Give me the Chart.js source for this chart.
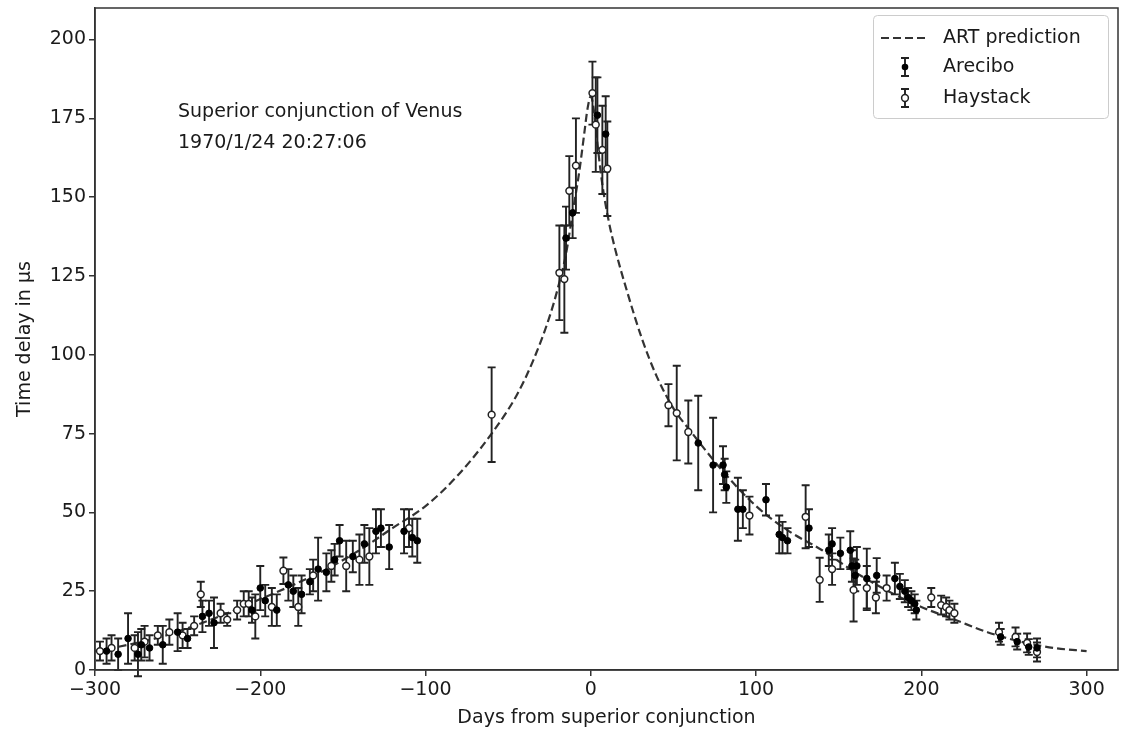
<!DOCTYPE html>
<html lang="en">
<head>
  <meta charset="UTF-8">
  <title>Time delay near superior conjunction of Venus</title>
  <script src="https://cdn.jsdelivr.net/npm/chart.js"></script>
  <style>
    html, body { margin: 0; padding: 0; background: #fff; }
    #wrap { width: 1126px; height: 731px; }
  </style>
</head>
<body>
  <div id="wrap"><canvas id="myChart" width="1126" height="731"></canvas></div>
  <script>
    // tick labels
    const xTicks = [-300, -200, -100, 0, 100, 200, 300];
    const yTicks = [0, 25, 50, 75, 100, 125, 150, 175, 200];

    // ART prediction curve
    const curveX = [-300, -280, -260, -240, -220, -200, -180, -160, -140, -120, -100, -80, -60, -45, -35, -25, -20, -15, -11, -7, -4, -2, 0,
      2, 4, 7, 11, 15, 22, 31, 40, 50, 60, 80, 100, 120, 140, 160, 180, 200, 220, 240, 260, 280, 300];
    const curveY = [6, 8, 10.5, 14, 18, 22.5, 27, 32, 38, 45, 52, 62, 75, 87, 98, 112, 121, 132, 145, 158, 170, 178, 182,
      177, 167, 154, 142, 133, 120, 105, 93, 83, 76, 63, 52, 44, 38, 31, 25, 20, 16, 12, 9, 7, 6];

    // Arecibo measurements (filled markers)
    const arecX = [-293, -286, -280, -274, -272, -267, -259, -250, -244, -235, -231, -228, -205, -200, -197, -190, -183, -180,
      -175, -170, -165, -160, -155, -152, -144, -137, -130, -127, -122, -113, -108, -105,
      -15, -11, 4, 9,
      65, 74, 80, 81, 82, 89, 92, 106, 114, 116, 119, 132, 144, 146, 151, 157, 158, 160, 161, 167, 173,
      184, 187, 190, 192, 194, 196, 197, 248, 258, 265, 270];
    const arecY = [6, 5, 10, 5, 8, 7, 8, 12, 10, 17, 18, 15, 19, 26, 22, 19, 27, 25,
      24, 28, 32, 31, 35, 41, 36, 40, 44, 45, 39, 44, 42, 41,
      137, 145, 176, 170,
      72, 65, 65, 62, 58, 51, 51, 54, 43, 42, 41, 45, 38, 40, 37, 38, 33, 30, 33, 29, 30,
      29, 26.5, 25, 23, 22, 21, 19, 10.5, 9, 7.3, 7];
    const arecErr = [4, 5, 8, 7, 5, 4, 6, 6, 3, 5, 4, 8, 4, 7, 5, 5, 5, 5,
      6, 4, 10, 6, 5, 5, 5, 6, 7, 6, 7, 7, 6, 7,
      10, 8, 12, 12,
      15, 15, 6, 5, 5, 10, 6, 5, 6, 5, 4, 6, 5, 5, 5, 6, 5, 5, 6, 9.5, 5.5,
      5, 4, 3.5, 3, 3, 3, 3, 2.5, 2.5, 2.5, 3];

    // Haystack measurements (open markers)
    const hayX = [-297, -290, -276, -270, -262, -255, -247, -240, -236, -224, -220, -214, -210, -207, -203, -193, -186, -177,
      -168, -157, -148, -140, -134, -110, -60,
      -19, -16, -13, -9, 1, 3, 7, 10,
      47, 52, 59, 96, 130, 138.5, 146, 159, 167, 172.5, 179, 206, 212, 215, 217, 220, 247, 257, 264, 270];
    const hayY = [6, 7, 7, 9, 11, 12, 11, 14, 24, 18, 16, 19, 21, 21, 17, 20, 31.5, 20,
      30, 33, 33, 35, 36, 45, 81,
      126, 124, 152, 160, 183, 173, 165, 159,
      84, 81.5, 75.5, 49, 48.6, 28.6, 32, 25.4, 26, 23, 26, 23, 20.6, 20, 19, 18, 12, 10.5, 8.6, 5.7];
    const hayErr = [3, 4, 4, 5, 3, 4, 4, 3, 4, 3, 2, 3, 4, 4, 7, 6, 4.2, 6,
      5, 5, 8, 8, 9, 6, 15,
      15, 17, 11, 15, 10, 15, 14, 15,
      6.7, 15, 10, 6, 10, 7, 5, 10, 7, 5, 4, 3, 3, 3, 3, 3, 3, 3, 3, 3];

    const FONT = 'DejaVu Sans';
    const INK = '#222';

    const pts = (xs, ys) => xs.map((x, i) => ({ x: x, y: ys[i] }));
    const minus = v => (v < 0 ? '\u2212' + Math.abs(v) : String(v));

    function drawBar(ctx, px, top, bottom) {
      ctx.beginPath();
      ctx.moveTo(px, top); ctx.lineTo(px, bottom);
      ctx.moveTo(px - 4, top); ctx.lineTo(px + 4, top);
      ctx.moveTo(px - 4, bottom); ctx.lineTo(px + 4, bottom);
      ctx.stroke();
    }

    const errorBars = {
      id: 'errorBars',
      afterDatasetDraw(chart, args) {
        if (args.index !== 0) return;
        const ctx = chart.ctx, xs = chart.scales.x, ys = chart.scales.y;
        ctx.save();
        ctx.strokeStyle = INK;
        ctx.lineWidth = 1.9;
        [[arecX, arecY, arecErr], [hayX, hayY, hayErr]].forEach(([X, Y, E]) => {
          X.forEach((x, i) => {
            const px = xs.getPixelForValue(x);
            drawBar(ctx, px, ys.getPixelForValue(Y[i] + E[i]), ys.getPixelForValue(Y[i] - E[i]));
          });
        });
        ctx.restore();
      }
    };

    const frameAndText = {
      id: 'frameAndText',
      afterDraw(chart) {
        const ctx = chart.ctx, a = chart.chartArea;
        ctx.save();
        ctx.strokeStyle = '#333';
        ctx.lineWidth = 1.5;
        ctx.strokeRect(a.left, a.top, a.right - a.left, a.bottom - a.top);

        ctx.fillStyle = '#1a1a1a';
        ctx.font = '19px ' + FONT;
        ctx.textAlign = 'left';
        ctx.textBaseline = 'middle';
        ctx.fillText('Superior conjunction of Venus', 178, 112);
        ctx.fillText('1970/1/24 20:27:06', 178, 143);

        // legend
        ctx.strokeStyle = '#cccccc';
        ctx.lineWidth = 1;
        ctx.beginPath();
        ctx.roundRect(873.5, 15.5, 235, 103, 4);
        ctx.stroke();

        ctx.strokeStyle = '#333';
        ctx.lineWidth = 2.2;
        ctx.setLineDash([8, 4]);
        ctx.beginPath();
        ctx.moveTo(881, 38); ctx.lineTo(929, 38);
        ctx.stroke();
        ctx.setLineDash([]);

        ctx.strokeStyle = INK;
        ctx.lineWidth = 1.9;
        drawBar(ctx, 905, 58, 76);
        drawBar(ctx, 905, 89, 107);
        ctx.fillStyle = '#000';
        ctx.beginPath(); ctx.arc(905, 67, 3.3, 0, Math.PI * 2); ctx.fill();
        ctx.fillStyle = '#fff';
        ctx.lineWidth = 1.5;
        ctx.beginPath(); ctx.arc(905, 98, 3.4, 0, Math.PI * 2); ctx.fill(); ctx.stroke();

        ctx.fillStyle = '#1a1a1a';
        ctx.font = '19px ' + FONT;
        ctx.fillText('ART prediction', 943, 38);
        ctx.fillText('Arecibo', 943, 67);
        ctx.fillText('Haystack', 943, 98);
        ctx.restore();
      }
    };

    const ctx = document.getElementById('myChart').getContext('2d');
    const myChart = new Chart(ctx, {
      type: 'scatter',
      data: {
        datasets: [
          {
            label: 'ART prediction',
            type: 'line',
            data: pts(curveX, curveY),
            borderColor: '#333',
            borderWidth: 2.2,
            borderDash: [8, 4],
            pointRadius: 0,
            fill: false,
            cubicInterpolationMode: 'monotone',
            order: 3
          },
          {
            label: 'Haystack',
            data: pts(hayX, hayY),
            pointRadius: 3.4,
            pointBackgroundColor: '#fff',
            pointBorderColor: INK,
            pointBorderWidth: 1.5,
            order: 2
          },
          {
            label: 'Arecibo',
            data: pts(arecX, arecY),
            pointRadius: 3.3,
            pointBackgroundColor: '#000',
            pointBorderColor: '#000',
            pointBorderWidth: 1,
            order: 1
          }
        ]
      },
      options: {
        responsive: false,
        animation: false,
        layout: { padding: { top: 8, right: 8, left: 0, bottom: 0 } },
        plugins: {
          legend: { display: false },
          tooltip: { enabled: false }
        },
        scales: {
          x: {
            type: 'linear',
            min: -300,
            max: 319,
            afterBuildTicks: s => { s.ticks = xTicks.map(v => ({ value: v })); },
            afterFit: s => { s.height = 61; s.paddingLeft = 0; s.paddingRight = 0; },
            grid: { drawOnChartArea: false, drawTicks: true, tickLength: 6, color: '#333', lineWidth: 1.5 },
            border: { display: true, color: '#333', width: 1.5 },
            ticks: {
              padding: 3,
              color: '#1a1a1a',
              font: { family: FONT, size: 19 },
              callback: v => minus(v)
            },
            title: {
              display: true,
              text: 'Days from superior conjunction',
              color: '#1a1a1a',
              font: { family: FONT, size: 19 },
              padding: { top: 0, bottom: 2 }
            }
          },
          y: {
            type: 'linear',
            min: 0,
            max: 210,
            afterBuildTicks: s => { s.ticks = yTicks.map(v => ({ value: v })); },
            afterFit: s => { s.width = 95; s.paddingTop = 0; s.paddingBottom = 0; },
            grid: { drawOnChartArea: false, drawTicks: true, tickLength: 6, color: '#333', lineWidth: 1.5 },
            border: { display: true, color: '#333', width: 1.5 },
            ticks: {
              padding: 3,
              color: '#1a1a1a',
              font: { family: FONT, size: 19 },
              callback: v => minus(v)
            },
            title: {
              display: true,
              text: 'Time delay in \u03bcs',
              color: '#1a1a1a',
              font: { family: FONT, size: 19 },
              padding: { top: 14, bottom: 0 }
            }
          }
        }
      },
      plugins: [errorBars, frameAndText]
    });
  </script>
</body>
</html>
